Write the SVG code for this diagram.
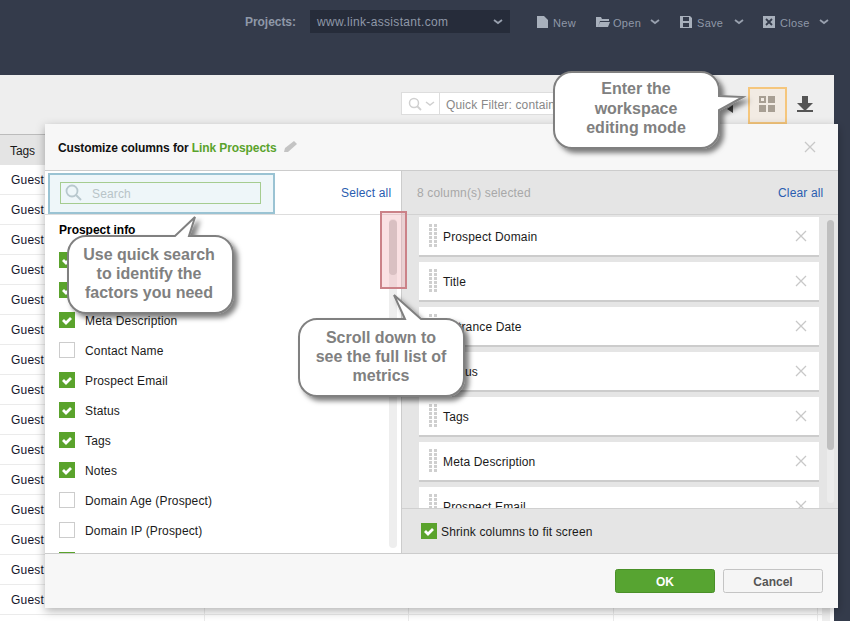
<svg xmlns="http://www.w3.org/2000/svg" xmlns:xlink="http://www.w3.org/1999/xlink" width="850" height="621" viewBox="0 0 850 621">
<style>
text{font-family:"Liberation Sans",Arial,sans-serif;font-size:12px;letter-spacing:.15px;fill:#1a1a1a}
.top{fill:#8f98a8}
.btn{font-size:11px;letter-spacing:.3px}
.b{font-weight:bold}
.guest{fill:#14142a;letter-spacing:.2px}
.rl{stroke:#ebebeb;stroke-width:1;fill:none}
.box{fill:#5aa32c}
.empty{fill:#fff;stroke:#ccc;stroke-width:1}
.tick{fill:none;stroke:#fff;stroke-width:2.8}
.item{fill:#fff}
.itemb{fill:#ccc}
.x{stroke:#c8c8c8;stroke-width:1.3;fill:none}
.chev{fill:none;stroke:#98a0ae;stroke-width:1.8}
.co{fill:#fff;stroke:#808080;stroke-width:2}
.cot{font-size:16px;font-weight:bold;fill:#808080;text-anchor:middle;letter-spacing:0}
</style>
<defs>
<filter id="ds" x="-15%" y="-15%" width="130%" height="130%"><feDropShadow dx="0" dy="3" stdDeviation="5" flood-color="#000" flood-opacity=".3"/></filter>
<filter id="cs" x="-20%" y="-20%" width="145%" height="145%"><feDropShadow dx="4" dy="4" stdDeviation="2.5" flood-color="#000" flood-opacity=".5"/></filter>
<g id="chk"><rect class="box" width="16" height="16"/><path class="tick" d="M4 8l3 3 5-5"/></g>
<rect id="emp" class="empty" x=".5" y=".5" width="15" height="15"/>
<g id="grip" fill="#cfcfcf"><rect x="0" y="0" width="3" height="3"/><rect x="5" y="0" width="3" height="3"/><rect x="0" y="4" width="3" height="3"/><rect x="5" y="4" width="3" height="3"/><rect x="0" y="8" width="3" height="3"/><rect x="5" y="8" width="3" height="3"/><rect x="0" y="12" width="3" height="3"/><rect x="5" y="12" width="3" height="3"/><rect x="0" y="16" width="3" height="3"/><rect x="5" y="16" width="3" height="3"/><rect x="0" y="20" width="3" height="3"/><rect x="5" y="20" width="3" height="3"/></g>
<path id="xm" class="x" d="M0 0l10 10M10 0L0 10"/>
<clipPath id="rc"><rect x="402" y="215" width="424" height="293"/></clipPath>
</defs>

<rect width="850" height="621" fill="#343b4b"/>

<g id="topbar">
<text class="top b" x="245" y="26" style="letter-spacing:-.05px">Projects:</text>
<rect x="310" y="10" width="200" height="23" fill="#262c3a"/>
<text class="top" x="317" y="26" style="letter-spacing:.33px">www.link-assistant.com</text>
<path class="chev" d="M494 20l4 3 4-3"/>
<path d="M537 16h7l4 4v8h-11z" fill="#a8b0bc"/>
<text class="top btn" x="553" y="27">New</text>
<path d="M596 27v-10h5l1 2h7v2h-9l-2 6zM598 27l2-5h10l-2 5z" fill="#a8b0bc"/>
<text class="top btn" x="613" y="27">Open</text>
<path class="chev" d="M651 20l4 3 4-3"/>
<path d="M680 16h10l2 2v10h-12zM683 17v4h6v-4zM683 23v4h6v-4z" fill="#a8b0bc" fill-rule="evenodd"/>
<text class="top btn" x="697" y="27">Save</text>
<path class="chev" d="M735 20l4 3 4-3"/>
<rect x="763" y="16" width="12" height="12" fill="#a8b0bc"/>
<path d="M766 19l6 6M772 19l-6 6" stroke="#343b4b" stroke-width="1.800"/>
<text class="top btn" x="780" y="27">Close</text>
<path class="chev" d="M820 20l4 3 4-3"/>
</g>

<g id="main-panel">
<rect x="0" y="75" width="834" height="546" fill="#fff"/>
<rect x="0" y="75" width="834" height="59" fill="#eee"/>
<rect x="0" y="134" width="834" height="1" fill="#bbb"/>
<rect x="0" y="135" width="834" height="30" fill="#e4e4e4"/>
<text x="10" y="155" style="letter-spacing:-.1px">Tags</text>
<path class="rl" d="M0 194.500H822M0 224.500H822M0 254.500H822M0 284.500H822M0 314.500H822M0 344.500H822M0 374.500H822M0 404.500H822M0 434.500H822M0 464.500H822M0 494.500H822M0 524.500H822M0 554.500H822M0 584.500H822M0 614.500H822M204.500 165V621M408.500 165V621M613.500 165V621M817.500 165V621"/>
<rect x="822" y="165" width="8" height="456" fill="#eee"/>
<g>
<text class="guest" x="11" y="184">Guest</text><text class="guest" x="11" y="214">Guest</text><text class="guest" x="11" y="244">Guest</text><text class="guest" x="11" y="274">Guest</text><text class="guest" x="11" y="304">Guest</text><text class="guest" x="11" y="334">Guest</text><text class="guest" x="11" y="364">Guest</text><text class="guest" x="11" y="394">Guest</text><text class="guest" x="11" y="424">Guest</text><text class="guest" x="11" y="454">Guest</text><text class="guest" x="11" y="484">Guest</text><text class="guest" x="11" y="514">Guest</text><text class="guest" x="11" y="544">Guest</text><text class="guest" x="11" y="574">Guest</text><text class="guest" x="11" y="604">Guest</text>
</g>
<rect x="401.500" y="92.500" width="200" height="22" fill="#fff" stroke="#ddd"/>
<path d="M439.500 93v21" stroke="#ddd"/>
<circle cx="414" cy="103" r="4.500" fill="none" stroke="#d0d0d0" stroke-width="1.500"/>
<path d="M417 106l4 4" stroke="#d0d0d0" stroke-width="1.800"/>
<path d="M426 102l4 3 4-3" fill="none" stroke="#d0d0d0" stroke-width="1.500"/>
<text x="446" y="109" style="fill:#888">Quick Filter: contain</text>
<path d="M718 96.500h19" stroke="#555"/>
<path d="M733 105v8l-6-4z" fill="#444"/>
<rect x="749" y="88" width="37" height="35" fill="#f2ebe3" stroke="#f5c67c" stroke-width="2"/>
<g fill="#a89f93"><path d="M759 96h7v7h-7zM761 98v3h3v-3z" fill-rule="evenodd"/><rect x="768" y="96" width="7" height="7"/><rect x="759" y="105" width="7" height="7"/><rect x="768" y="105" width="7" height="7"/></g>
<path d="M802 96h6v7h5l-8 8-8-8h5z" fill="#555"/>
<rect x="797" y="110" width="16" height="2" fill="#555"/>
</g>

<g id="dialog">
<rect x="45" y="124" width="793" height="484" fill="#f7f7f7" filter="url(#ds)"/>
<rect x="45" y="170" width="793" height="1" fill="#ccc"/>
<text class="b" x="58" y="152" style="fill:#111;letter-spacing:-.1px">Customize columns for <tspan style="fill:#5aa32c">Link Prospects</tspan></text>
<path d="M284 152l1-4 9-7 3 3-9 8z" fill="#c4c4c4"/>
<use xlink:href="#xm" href="#xm" x="805" y="142"/>

<rect x="45" y="171" width="356" height="382" fill="#fff"/>
<rect x="45" y="214" width="356" height="1" fill="#ddd"/>
<rect x="402" y="171" width="436" height="382" fill="#e5e5e5"/>
<rect x="401" y="171" width="1" height="382" fill="#ccc"/>
<rect x="45" y="553" width="793" height="1" fill="#ccc"/>
<rect x="402" y="214" width="436" height="1" fill="#d2d2d2"/>
</g>

<g id="search">
<rect x="49" y="174" width="225" height="39" fill="#eef6f9" stroke="#9ac3d3" stroke-width="2"/>
<rect x="60.500" y="182.500" width="200" height="21" fill="#eef6f9" stroke="#a5cc90"/>
<circle cx="72" cy="191" r="5.500" fill="none" stroke="#b8c8ce" stroke-width="1.800"/>
<path d="M76 195l5 5" stroke="#b8c8ce" stroke-width="2"/>
<text x="92" y="198" style="fill:#b8c4c8">Search</text>
<text x="341" y="197" style="fill:#2a5db0">Select all</text>
</g>

<g id="prospect-list">
<text class="b" x="59" y="234" style="fill:#000;letter-spacing:-.02px">Prospect info</text>
<use xlink:href="#chk" href="#chk" x="59" y="252"/>
<use xlink:href="#chk" href="#chk" x="59" y="282"/>
<use xlink:href="#chk" href="#chk" x="59" y="312"/><text x="85" y="325">Meta Description</text>
<use xlink:href="#emp" href="#emp" x="59" y="342"/><text x="85" y="355">Contact Name</text>
<use xlink:href="#chk" href="#chk" x="59" y="372"/><text x="85" y="385">Prospect Email</text>
<use xlink:href="#chk" href="#chk" x="59" y="402"/><text x="85" y="415">Status</text>
<use xlink:href="#chk" href="#chk" x="59" y="432"/><text x="85" y="445">Tags</text>
<use xlink:href="#chk" href="#chk" x="59" y="462"/><text x="85" y="475">Notes</text>
<use xlink:href="#emp" href="#emp" x="59" y="492"/><text x="85" y="505">Domain Age (Prospect)</text>
<use xlink:href="#emp" href="#emp" x="59" y="522"/><text x="85" y="535">Domain IP (Prospect)</text>
<rect x="59" y="552" width="16" height="1" fill="#5aa32c"/>
<rect x="389" y="219" width="8" height="329" rx="4" fill="#eee"/>
<rect x="389" y="220" width="8" height="55" rx="4" fill="#ccc"/>
</g>

<g id="selected-columns">
<text x="417" y="197" style="fill:#a8a8a8">8 column(s) selected</text>
<text x="778" y="197" style="fill:#2a5db0">Clear all</text>
<rect x="827" y="220" width="7" height="283" rx="3.500" fill="#ececec"/>
<rect x="827" y="220" width="7" height="230" rx="3.500" fill="#bfbfbf"/>
<g clip-path="url(#rc)">
<g><rect class="itemb" x="419" y="217" width="400" height="40"/><rect class="item" x="419" y="217" width="400" height="38"/><use xlink:href="#grip" href="#grip" x="429" y="224"/><text x="443" y="241">Prospect Domain</text><use xlink:href="#xm" href="#xm" x="796" y="231"/></g>
<g><rect class="itemb" x="419" y="262" width="400" height="40"/><rect class="item" x="419" y="262" width="400" height="38"/><use xlink:href="#grip" href="#grip" x="429" y="269"/><text x="443" y="286">Title</text><use xlink:href="#xm" href="#xm" x="796" y="276"/></g>
<g><rect class="itemb" x="419" y="307" width="400" height="40"/><rect class="item" x="419" y="307" width="400" height="38"/><use xlink:href="#grip" href="#grip" x="429" y="314"/><text x="443" y="331">Entrance Date</text><use xlink:href="#xm" href="#xm" x="796" y="321"/></g>
<g><rect class="itemb" x="419" y="352" width="400" height="40"/><rect class="item" x="419" y="352" width="400" height="38"/><use xlink:href="#grip" href="#grip" x="429" y="359"/><text x="443" y="376">Status</text><use xlink:href="#xm" href="#xm" x="796" y="366"/></g>
<g><rect class="itemb" x="419" y="397" width="400" height="40"/><rect class="item" x="419" y="397" width="400" height="38"/><use xlink:href="#grip" href="#grip" x="429" y="404"/><text x="443" y="421">Tags</text><use xlink:href="#xm" href="#xm" x="796" y="411"/></g>
<g><rect class="itemb" x="419" y="442" width="400" height="40"/><rect class="item" x="419" y="442" width="400" height="38"/><use xlink:href="#grip" href="#grip" x="429" y="449"/><text x="443" y="466">Meta Description</text><use xlink:href="#xm" href="#xm" x="796" y="456"/></g>
<g><rect class="itemb" x="419" y="487" width="400" height="40"/><rect class="item" x="419" y="487" width="400" height="38"/><use xlink:href="#grip" href="#grip" x="429" y="494"/><text x="443" y="511">Prospect Email</text><use xlink:href="#xm" href="#xm" x="796" y="501"/></g>
</g>
<rect x="402" y="508" width="436" height="1" fill="#d0d0d0"/>
<use xlink:href="#chk" href="#chk" x="421" y="523"/>
<text x="441" y="536">Shrink columns to fit screen</text>
</g>

<g id="buttons">
<rect x="615.500" y="569.500" width="99" height="23" rx="2" fill="#57a431" stroke="#4a9028"/>
<text class="b" x="665" y="586" text-anchor="middle" style="fill:#fff;letter-spacing:0">OK</text>
<rect x="723.500" y="569.500" width="99" height="23" rx="2" fill="#f5f5f5" stroke="#c4c4c4"/>
<text class="b" x="773" y="586" text-anchor="middle" style="fill:#555;letter-spacing:0">Cancel</text>
</g>

<rect id="scroll-highlight" x="381" y="212" width="25" height="76" fill="#f0a8ae" fill-opacity=".35" stroke="#cb8288" stroke-width="2"/>

<g id="callouts">
<g id="callout-workspace">
<path class="co" filter="url(#cs)" d="M572 72H701a18 18 0 0 1 18 18V96L743 97L719 110V130a18 18 0 0 1-18 18H572a18 18 0 0 1-18-18V90a18 18 0 0 1 18-18z"/>
<text class="cot" x="636" y="94">Enter the</text><text class="cot" x="636" y="114">workspace</text><text class="cot" x="636" y="133">editing mode</text>
</g>
<g id="callout-search">
<path class="co" filter="url(#cs)" d="M86 236H175L195 217L189 236H215a18 18 0 0 1 18 18V295a18 18 0 0 1-18 18H86a18 18 0 0 1-18-18V254a18 18 0 0 1 18-18z"/>
<text class="cot" x="149" y="260">Use quick search</text><text class="cot" x="149" y="279">to identify the</text><text class="cot" x="149" y="298">factors you need</text>
</g>
<g id="callout-scroll">
<path class="co" filter="url(#cs)" d="M317 319H405L394 295L421 319H446a18 18 0 0 1 18 18V378a18 18 0 0 1-18 18H317a18 18 0 0 1-18-18V337a18 18 0 0 1 18-18z"/>
<text class="cot" x="381" y="343">Scroll down to</text><text class="cot" x="381" y="362">see the full list of</text><text class="cot" x="381" y="381">metrics</text>
</g>
</g>
</svg>
